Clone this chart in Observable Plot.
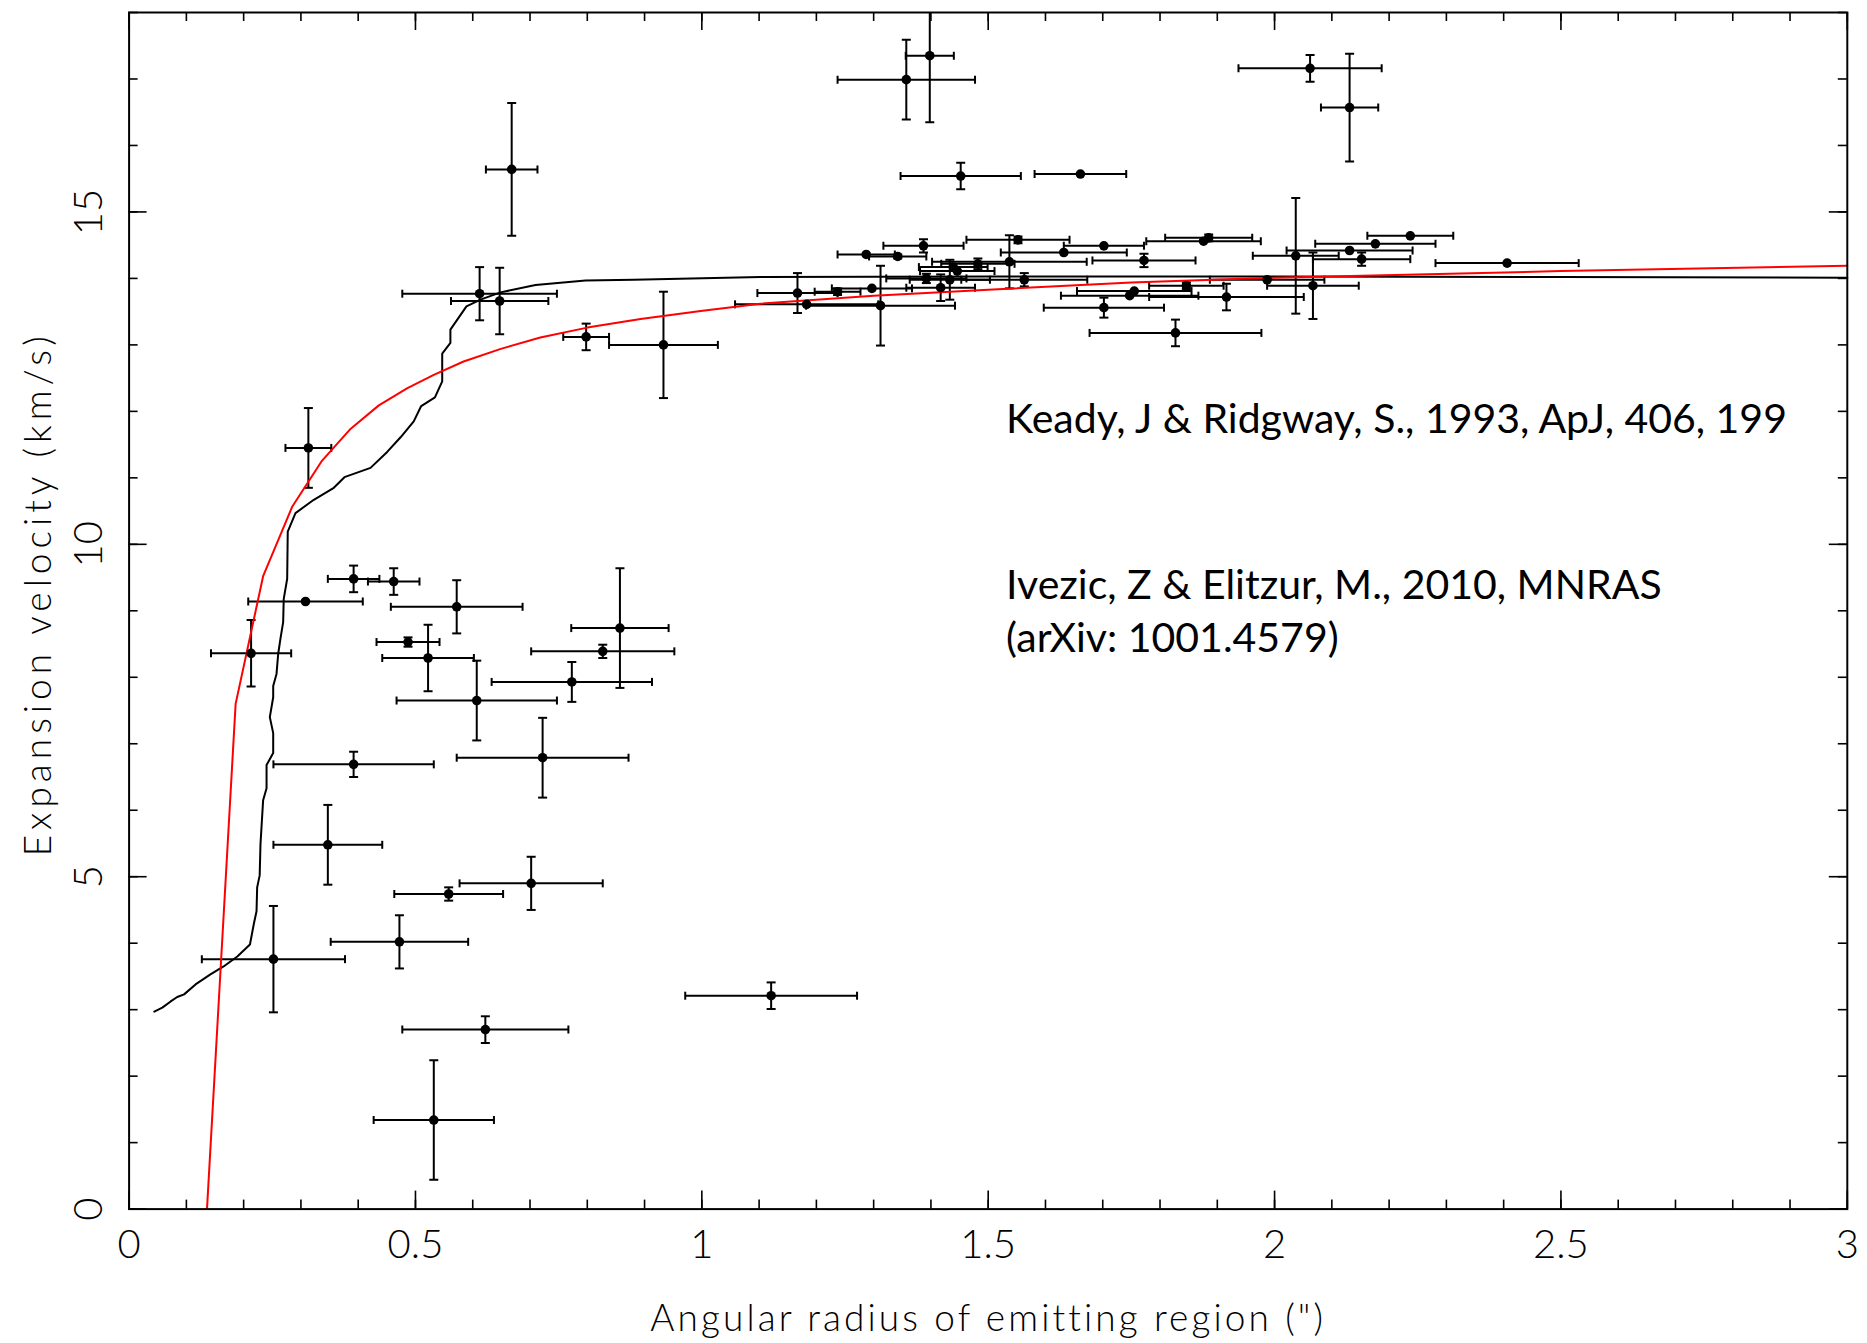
<!DOCTYPE html>
<html>
<head>
<meta charset="utf-8">
<script src="https://cdn.jsdelivr.net/npm/d3@7"></script>
<script src="https://cdn.jsdelivr.net/npm/@observablehq/plot@0.6"></script>
<style>
  html, body { margin: 0; padding: 0; background: #fff; }
  #chart svg { display: block; }
</style>
</head>
<body>
<div id="chart"></div>
<script>
// Angular radius of the emitting region (arcsec) with its uncertainty
const radius = [
  0.213, 0.313, 0.308, 0.392, 0.462, 0.572, 0.487, 0.522, 0.607, 0.773,
  0.827, 0.857, 0.392, 0.722, 0.347, 0.702, 0.558, 0.472, 0.252, 1.121,
  0.622, 0.532, 0.668, 0.612, 0.647, 0.798, 0.933, 1.357, 1.398, 1.452,
  1.661, 2.062, 2.131, 2.406, 1.287, 1.342, 1.387, 1.552, 1.537, 1.632,
  1.702, 1.482, 1.439, 1.446, 1.392, 1.433, 1.417, 1.563, 1.297, 1.237,
  1.167, 1.183, 1.312, 1.755, 1.747, 1.702, 1.827, 1.876, 1.885, 1.772,
  2.037, 2.237, 2.176, 2.131, 2.152, 1.987, 2.067, 1.846, 1.916
];
const radiusErr = [
  0.070, 0.040, 0.100, 0.045, 0.045, 0.115, 0.055, 0.080, 0.140, 0.140,
  0.125, 0.085, 0.140, 0.150, 0.095, 0.125, 0.095, 0.120, 0.125, 0.150,
  0.145, 0.105, 0.045, 0.135, 0.085, 0.040, 0.095, 0.120, 0.042, 0.105,
  0.080, 0.125, 0.050, 0.125, 0.050, 0.050, 0.070, 0.090, 0.135, 0.110,
  0.070, 0.064, 0.060, 0.065, 0.070, 0.070, 0.060, 0.110, 0.070, 0.040,
  0.070, 0.125, 0.130, 0.100, 0.120, 0.105, 0.150, 0.100, 0.076, 0.090,
  0.075, 0.075, 0.105, 0.110, 0.085, 0.100, 0.080, 0.065, 0.135
];
// Expansion velocity (km/s) with its uncertainty
const velocity = [
  8.36, 11.45, 9.14, 9.48, 9.44, 9.06, 8.53, 8.29, 7.65, 7.93,
  8.39, 8.74, 6.69, 6.79, 5.48, 4.90, 4.74, 4.02, 3.76, 3.21,
  2.70, 1.34, 15.64, 13.77, 13.66, 13.12, 13.00, 16.99, 17.35, 15.54,
  15.57, 17.16, 16.57, 14.23, 14.36, 14.33, 14.49, 14.58, 14.25, 14.39,
  14.49, 14.22, 14.17, 14.11, 14.00, 13.98, 13.86, 13.98, 13.85, 13.80,
  13.78, 13.61, 13.59, 13.81, 13.74, 13.56, 13.18, 14.56, 14.61, 14.27,
  14.34, 14.64, 14.52, 14.42, 14.29, 13.98, 13.89, 13.89, 13.72
];
const velocityErr = [
  0.50, 0.60, 0.00, 0.20, 0.20, 0.40, 0.07, 0.50, 0.60, 0.30,
  0.10, 0.90, 0.19, 0.60, 0.60, 0.40, 0.10, 0.40, 0.80, 0.20,
  0.20, 0.90, 1.00, 0.40, 0.50, 0.20, 0.80, 0.60, 1.00, 0.20,
  0.00, 0.20, 0.81, 0.00, 0.00, 0.03, 0.10, 0.05, 0.40, 0.00,
  0.00, 0.08, 0.00, 0.00, 0.07, 0.30, 0.20, 0.10, 0.00, 0.05,
  0.30, 0.00, 0.60, 0.00, 0.00, 0.15, 0.20, 0.00, 0.05, 0.10,
  0.87, 0.00, 0.00, 0.00, 0.10, 0.00, 0.50, 0.05, 0.20
];

// Model velocity profile (black curve)
const blackCurveRadius = [
  0.044, 0.058, 0.072, 0.084, 0.096, 0.116, 0.142, 0.165, 0.189, 0.211,
  0.218, 0.2225, 0.2236, 0.228, 0.2294, 0.234, 0.240, 0.240, 0.2516, 0.2516,
  0.2457, 0.2516, 0.2516, 0.2574, 0.2603, 0.2644, 0.269, 0.270, 0.276, 0.277,
  0.2905, 0.3225, 0.3574, 0.376, 0.4215, 0.4506, 0.474, 0.497, 0.510, 0.534,
  0.5467, 0.5467, 0.561, 0.561, 0.589, 0.6135, 0.6485, 0.7096, 0.797, 0.881,
  1.102, 1.5, 2.0, 2.5, 3.0
];
const blackCurveVelocity = [
  2.97, 3.03, 3.12, 3.19, 3.23, 3.38, 3.53, 3.65, 3.80, 3.98,
  4.30, 4.48, 4.84, 5.02, 5.49, 6.15, 6.33, 6.68, 6.86, 7.16,
  7.40, 7.70, 7.87, 8.05, 8.35, 8.59, 8.83, 9.18, 9.48, 10.19,
  10.47, 10.67, 10.85, 11.01, 11.15, 11.39, 11.61, 11.85, 12.08, 12.21,
  12.45, 12.87, 13.03, 13.23, 13.58, 13.68, 13.79, 13.90, 13.97, 13.98,
  14.02, 14.03, 14.03, 14.02, 14.01
];

// Model velocity profile (red curve)
const redCurveRadius = [
  0.136, 0.186, 0.234, 0.285, 0.337, 0.387, 0.436, 0.486, 0.532, 0.584,
  0.649, 0.718, 0.800, 0.893, 0.998, 1.102, 1.300, 1.500, 1.750, 2.000,
  2.500, 3.000
];
const redCurveVelocity = [
  0.00, 7.60, 9.52, 10.57, 11.26, 11.74, 12.09, 12.35, 12.55, 12.75,
  12.94, 13.11, 13.26, 13.39, 13.51, 13.62, 13.74, 13.83, 13.94, 14.01,
  14.11, 14.19
];

// Axes
const xMajorTicks = [0, 0.5, 1, 1.5, 2, 2.5, 3];
const xMinorTicks = d3.range(0, 31).map(i => i / 10);
const yMajorTicks = [0, 5, 10, 15];
const yMinorTicks = d3.range(0, 19);
const xTitle = "Angular radius of emitting region (\")";
const yTitle = "Expansion velocity (km/s)";
const references = [
  "Keady, J & Ridgway, S., 1993, ApJ, 406, 199",
  "Ivezic, Z & Elitzur, M., 2010, MNRAS\n(arXiv: 1001.4579)"
];

// Layout
const width = 1867, height = 1343;
const margin = {top: 12, right: 20.2, bottom: 134.4, left: 128.6};
const innerW = width - margin.left - margin.right;
const innerH = height - margin.top - margin.bottom;
const majorLen = 18, minorLen = 9;
const axisFont = "Lato, 'DejaVu Sans', sans-serif";
const noteFont = "Lato, 'Open Sans', sans-serif";

const rows = radius.map((r, i) => ({
  r, v: velocity[i],
  rLo: r - radiusErr[i], rHi: r + radiusErr[i],
  vLo: velocity[i] - velocityErr[i], vHi: velocity[i] + velocityErr[i],
  hasV: velocityErr[i] > 0
}));
const vRows = rows.filter(d => d.hasV);
const blackCurve = blackCurveRadius.map((r, i) => ({r, v: blackCurveVelocity[i]}));
const redCurve = redCurveRadius.map((r, i) => ({r, v: redCurveVelocity[i]}));

// Error-bar end caps as custom dot symbols (half-length = r)
const capVertical = {draw(ctx, size) { const h = Math.sqrt(size / Math.PI); ctx.moveTo(0, -h); ctx.lineTo(0, h); }};
const capHorizontal = {draw(ctx, size) { const h = Math.sqrt(size / Math.PI); ctx.moveTo(-h, 0); ctx.lineTo(h, 0); }};

const barStyle = {stroke: "black", strokeWidth: 2, clip: true};
const tickStyle = {stroke: "black", strokeWidth: 1.6};

const chart = Plot.plot({
  width, height,
  marginTop: margin.top, marginRight: margin.right,
  marginBottom: margin.bottom, marginLeft: margin.left,
  x: {domain: [0, 3], axis: null},
  y: {domain: [0, 18], axis: null},
  style: {background: "white"},
  marks: [
    // inward ticks on all four sides
    Plot.tickX(xMajorTicks, {x: d => d, insetTop: innerH - majorLen, ...tickStyle}),
    Plot.tickX(xMinorTicks, {x: d => d, insetTop: innerH - minorLen, ...tickStyle}),
    Plot.tickX(xMajorTicks, {x: d => d, insetBottom: innerH - majorLen, ...tickStyle}),
    Plot.tickX(xMinorTicks, {x: d => d, insetBottom: innerH - minorLen, ...tickStyle}),
    Plot.tickY(yMajorTicks, {y: d => d, insetRight: innerW - majorLen, ...tickStyle}),
    Plot.tickY(yMinorTicks, {y: d => d, insetRight: innerW - minorLen, ...tickStyle}),
    Plot.tickY(yMajorTicks, {y: d => d, insetLeft: innerW - majorLen, ...tickStyle}),
    Plot.tickY(yMinorTicks, {y: d => d, insetLeft: innerW - minorLen, ...tickStyle}),

    // tick labels
    Plot.text(xMajorTicks, {x: d => d, frameAnchor: "bottom", dy: 36, text: d => String(d),
      fontSize: 40, fontWeight: 300, fontFamily: axisFont, lineAnchor: "middle", fill: "black"}),
    Plot.text(yMajorTicks, {y: d => d, frameAnchor: "left", dx: -40, rotate: -90, text: d => String(d),
      fontSize: 40, fontWeight: 300, fontFamily: axisFont, textAnchor: "middle", lineAnchor: "middle", fill: "black"}),

    // axis titles
    Plot.text([xTitle], {frameAnchor: "bottom", dy: 110, text: d => d, fontSize: 37, fontWeight: 300,
      fontFamily: axisFont, lineAnchor: "middle", fill: "black"}),
    Plot.text([yTitle], {frameAnchor: "left", dx: -90, dy: -17, rotate: -90, text: d => d, fontSize: 37, fontWeight: 300,
      fontFamily: axisFont, textAnchor: "middle", lineAnchor: "middle", fill: "black"}),

    // error bars
    Plot.link(rows, {x1: "rLo", x2: "rHi", y1: "v", y2: "v", ...barStyle}),
    Plot.link(vRows, {x1: "r", x2: "r", y1: "vLo", y2: "vHi", ...barStyle}),
    Plot.dot(rows, {x: "rLo", y: "v", symbol: capVertical, r: 4, fill: "none", ...barStyle}),
    Plot.dot(rows, {x: "rHi", y: "v", symbol: capVertical, r: 4, fill: "none", ...barStyle}),
    Plot.dot(vRows, {x: "r", y: "vLo", symbol: capHorizontal, r: 4.5, fill: "none", ...barStyle}),
    Plot.dot(vRows, {x: "r", y: "vHi", symbol: capHorizontal, r: 4.5, fill: "none", ...barStyle}),

    // model curves
    Plot.line(blackCurve, {x: "r", y: "v", stroke: "black", strokeWidth: 2, curve: "linear"}),
    Plot.line(redCurve, {x: "r", y: "v", stroke: "#ff0000", strokeWidth: 2, curve: "linear"}),

    // measurements
    Plot.dot(rows, {x: "r", y: "v", r: 4.8, fill: "black", stroke: "none"}),

    // literature references
    Plot.text([references[0]], {frameAnchor: "top-left", dx: 877, dy: 391, text: d => d,
      textAnchor: "start", lineAnchor: "top", fontSize: 41, fontFamily: noteFont, fill: "black"}),
    Plot.text([references[1]], {frameAnchor: "top-left", dx: 877, dy: 550, text: d => d,
      textAnchor: "start", lineAnchor: "top", lineHeight: 1.27, fontSize: 41, fontFamily: noteFont, fill: "black"}),

    Plot.frame({stroke: "black", strokeWidth: 2})
  ]
});

// Wider letter spacing for the axis titles
const spacing = new Map([[xTitle, "3.1px"], [yTitle, "5px"]]);
d3.select(chart).selectAll("text")
  .filter(function() { return spacing.has(this.textContent); })
  .each(function() { d3.select(this).style("letter-spacing", spacing.get(this.textContent)); });

document.getElementById("chart").appendChild(chart);
</script>
</body>
</html>
